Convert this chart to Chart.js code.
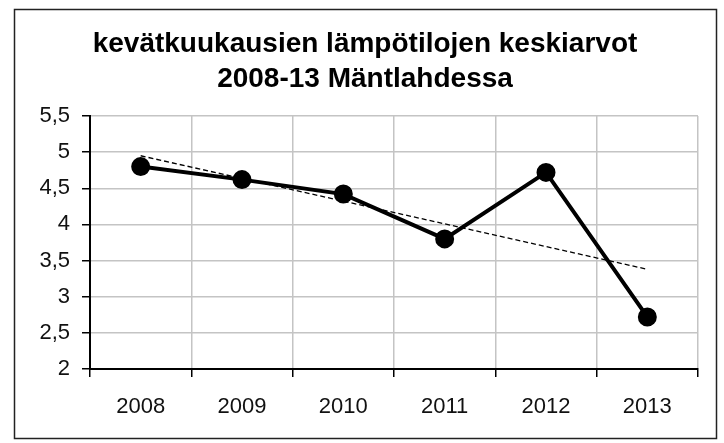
<!DOCTYPE html>
<html>
<head>
<meta charset="utf-8">
<script src="https://cdn.jsdelivr.net/npm/chart.js@4/dist/chart.umd.min.js"></script>
<style>
  html, body { margin: 0; padding: 0; background: #fff; }
  #wrap { width: 724px; height: 443px; position: relative; }
</style>
</head>
<body>
<div id="wrap"><canvas id="chart" width="724" height="443"></canvas></div>
<script>
const TITLE_LINES = ['kevätkuukausien lämpötilojen keskiarvot', '2008-13 Mäntlahdessa'];
const years = ['2008', '2009', '2010', '2011', '2012', '2013'];
const temps = [4.8, 4.62, 4.42, 3.8, 4.72, 2.72];
// linear trend line, ends
const trendValues = [4.95, null, null, null, null, 3.38];
const yTicks = [2, 2.5, 3, 3.5, 4, 4.5, 5, 5.5];

const FONT = 'Liberation Sans, Arial, sans-serif';

// --- outer frame like the Excel chart area ---
const framePlugin = {
  id: 'frame',
  beforeDraw(chart) {
    const ctx = chart.ctx;
    ctx.save();
    ctx.fillStyle = '#fff';
    ctx.fillRect(0, 0, chart.width, chart.height);
    ctx.strokeStyle = '#222';
    ctx.lineWidth = 1.5;
    ctx.strokeRect(14.5, 9.5, 702, 429);
    ctx.restore();
  }
};

new Chart(document.getElementById('chart').getContext('2d'), {
  type: 'line',
  data: {
    labels: years,
    datasets: [
      {
        label: 'trendi',
        data: trendValues,
        borderColor: '#000',
        borderWidth: 1.3,
        borderDash: [5, 3],
        pointRadius: 0,
        spanGaps: true,
        order: 0
      },
      {
        label: 'keskiarvo',
        data: temps,
        borderColor: '#000',
        backgroundColor: '#000',
        borderWidth: 4,
        pointRadius: 7.5,
        pointBackgroundColor: '#000',
        pointBorderColor: '#000',
        order: 1
      }
    ]
  },
  options: {
    responsive: false,
    animation: false,
    layout: { padding: { left: 32, right: 26, top: 0, bottom: 0 } },
    plugins: {
      legend: { display: false },
      tooltip: { enabled: false },
      title: {
        display: true,
        text: TITLE_LINES,
        color: '#000',
        font: { family: FONT, size: 28, weight: 'bold', lineHeight: 1.25 },
        padding: { top: 27, bottom: 19 }
      }
    },
    scales: {
      x: {
        offset: true,
        grid: {
          offset: true,
          color: '#c4c4c4',
          lineWidth: 1.5,
          tickColor: '#000',
          tickLength: 8
        },
        border: { color: '#000', width: 2 },
        ticks: {
          color: '#111',
          font: { family: FONT, size: 22 },
          padding: 17,
          maxRotation: 0
        },
        afterFit(scale) { scale.height = 74; }
      },
      y: {
        min: 2,
        max: 5.5,
        afterBuildTicks(scale) { scale.ticks = yTicks.map(v => ({ value: v })); },
        grid: {
          color: '#c4c4c4',
          lineWidth: 1.5,
          tickColor: '#000',
          tickLength: 8
        },
        border: { color: '#000', width: 2 },
        ticks: {
          color: '#111',
          font: { family: FONT, size: 22 },
          padding: 12,
          callback: v => String(v).replace('.', ',')
        },
        afterFit(scale) { scale.width = 58; }
      }
    }
  },
  plugins: [framePlugin]
});
</script>
</body>
</html>
